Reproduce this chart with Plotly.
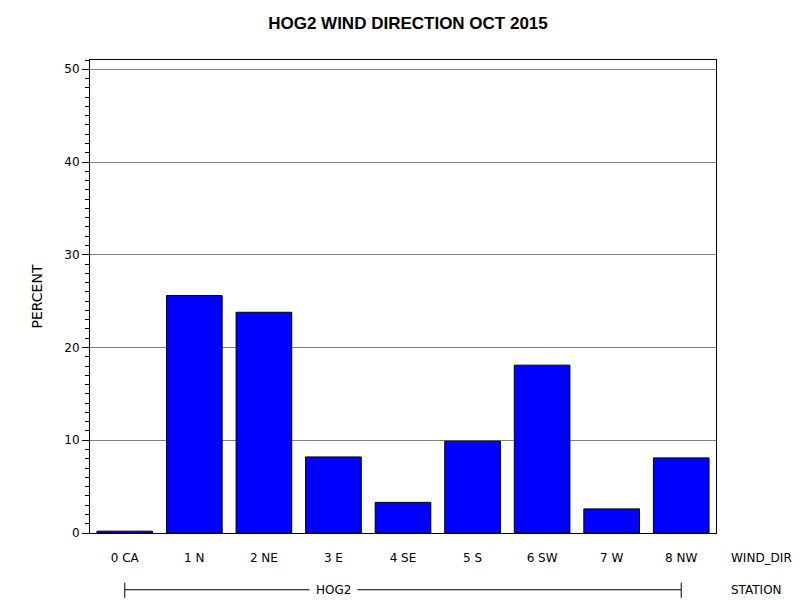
import plotly.graph_objects as go

categories = ["0 CA", "1 N", "2 NE", "3 E", "4 SE", "5 S", "6 SW", "7 W", "8 NW"]
percent = [0.2, 25.6, 23.8, 8.2, 3.3, 9.9, 18.1, 2.6, 8.1]
station = "HOG2"

fig = go.Figure(go.Bar(x=list(range(len(categories))), y=percent, marker=dict(color="#0000FF", line=dict(color="black", width=1)), width=0.8))

fig.update_layout(
    width=800, height=600, paper_bgcolor="white", plot_bgcolor="white",
    margin=dict(l=82, r=92, t=52, b=75, autoexpand=False),
    font=dict(family="DejaVu Sans", size=12, color="black"),
    title=dict(text="<b>HOG2 WIND DIRECTION OCT 2015</b>", x=0.5, xanchor="center", y=0.985, yanchor="top", font=dict(size=17, family="Liberation Sans"), automargin=False),
    showlegend=False,
)
fig.update_xaxes(range=[-0.5, 8.5], tickvals=list(range(len(categories))), ticktext=categories, automargin=False,
                 showline=True, linecolor="black", mirror=True, ticks="", showgrid=False, zeroline=False, ticklabelstandoff=14)
fig.update_yaxes(range=[0, 51], tickvals=[0, 10, 20, 30, 40, 50], showline=True, linecolor="black", mirror=True, automargin=False,
                 ticks="outside", ticklen=7, tickcolor="black", showgrid=True, gridcolor="#808080", gridwidth=1, zeroline=False,
                 minor=dict(dtick=1, ticks="outside", ticklen=4, tickcolor="black", showgrid=False),
                 title=dict(text="PERCENT", standoff=18))
fig.add_annotation(text="WIND_DIR", xref="paper", yref="paper", x=1.02, y=-0.052, xanchor="left", yanchor="middle", showarrow=False)
fig.add_annotation(text="STATION", xref="paper", yref="paper", x=1.02, y=-0.12, xanchor="left", yanchor="middle", showarrow=False)
fig.add_shape(type="line", xref="x", yref="paper", x0=0, x1=8, y0=-0.12, y1=-0.12, line=dict(color="black", width=1))
for xv in (0, 8):
    fig.add_shape(type="line", xref="x", yref="paper", x0=xv, x1=xv, y0=-0.105, y1=-0.137, line=dict(color="black", width=1))
fig.add_annotation(text=station, xref="x", yref="paper", x=3.0, y=-0.12, yanchor="middle", showarrow=False, bgcolor="white", borderpad=6)
fig.write_html("out.html")
